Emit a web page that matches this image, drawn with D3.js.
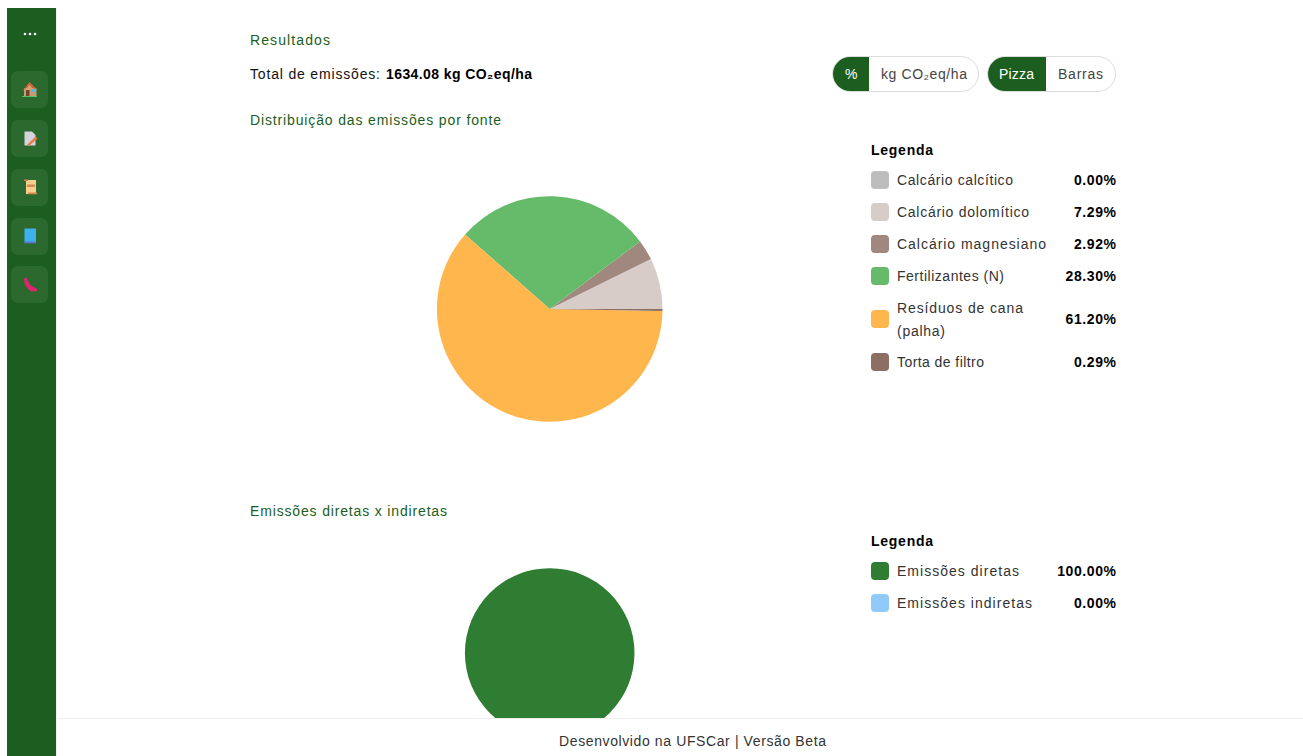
<!DOCTYPE html>
<html lang="pt-BR">
<head>
<meta charset="utf-8">
<title>Resultados</title>
<script src="https://cdn.jsdelivr.net/npm/d3@7/dist/d3.min.js"></script>
<style>
  html, body { margin: 0; padding: 0; background: #fff; overflow: hidden; }
  svg { display: block; font-family: "Liberation Sans", Arial, sans-serif; }
  text { font-size: 14px; }
</style>
</head>
<body>
<svg id="page" width="1303" height="756"></svg>
<script>
// Emission sources, in the order they are stacked around the pie
const sourceNames = ["Calcário calcítico", "Calcário dolomítico", "Calcário magnesiano", "Fertilizantes (N)", "Resíduos de cana|(palha)", "Torta de filtro"];
const sourceShares = [0.00, 7.29, 2.92, 28.30, 61.20, 0.29];
const sourceColors = ["#bdbdbd", "#d7ccc8", "#a1887f", "#66bb6a", "#ffb74d", "#8d6e63"];

const scopeNames = ["Emissões diretas", "Emissões indiretas"];
const scopeShares = [100.00, 0.00];
const scopeColors = ["#2e7d32", "#90caf9"];

const unitOptions = ["%", "kg CO₂eq/ha"];
const chartOptions = ["Pizza", "Barras"];

const GREEN = "#1b5e20";
const svg = d3.select("#page");

// Text helper: optional run width keeps labels aligned with the page's grid
function label(x, y, str, opts = {}) {
  const t = svg.append("text").attr("x", x).attr("y", y)
    .attr("fill", opts.fill || "#333").text(str);
  if (opts.bold) t.attr("font-weight", "bold");
  if (opts.anchor) t.attr("text-anchor", opts.anchor);
  if (opts.width) t.attr("textLength", opts.width).attr("lengthAdjust", "spacing");
  return t;
}

// Left navigation rail
svg.append("rect").attr("x", 7).attr("y", 8).attr("width", 49).attr("height", 748).attr("fill", GREEN);
svg.append("rect").attr("x", 56).attr("y", 8).attr("width", 1).attr("height", 748).attr("fill", "#f0f0f0");
[25, 30, 35].forEach(cx => {
  svg.append("circle").attr("cx", cx).attr("cy", 34).attr("r", 1.3).attr("fill", "#fff");
});

// Navigation buttons with small pictograms
[71, 120, 169, 218, 266].forEach(y => {
  svg.append("rect").attr("x", 11).attr("y", y).attr("width", 37).attr("height", 37)
    .attr("rx", 7).attr("fill", "#ffffff").attr("fill-opacity", 0.07);
});
const ico = svg.append("g");
// house
ico.append("rect").attr("x", 24).attr("y", 88).attr("width", 12.5).attr("height", 8).attr("fill", "#c99b70");
ico.append("path").attr("d", "M22.5 91 L29.5 82 L37.5 90 L33 88 L29 86 L25 89 Z").attr("fill", "#d9603b");
ico.append("path").attr("d", "M25 90 L29.5 85 L33 88.5 V90 Z").attr("fill", "#dca26e");
ico.append("rect").attr("x", 26).attr("y", 90).attr("width", 3.5).attr("height", 6).attr("fill", "#6d4535");
ico.append("rect").attr("x", 31.5).attr("y", 89).attr("width", 4).attr("height", 3).attr("fill", "#5fb6d9");
ico.append("rect").attr("x", 22).attr("y", 96).attr("width", 15).attr("height", 1).attr("fill", "#56c26b");
// memo
ico.append("path").attr("d", "M24.5 131.5 H32 L35.5 135 V145.5 H24.5 Z").attr("fill", "#d5d3dc");
ico.append("path").attr("d", "M27 145 L35.5 136.5 L37.5 138.5 L29.5 145.5 Z").attr("fill", "#ee7a45");
// scroll
ico.append("rect").attr("x", 26).attr("y", 180).attr("width", 10).attr("height", 14).attr("fill", "#fbcf8e");
ico.append("rect").attr("x", 24).attr("y", 179.5).attr("width", 4).attr("height", 1.5).attr("fill", "#c9824d");
ico.append("rect").attr("x", 27).attr("y", 184.5).attr("width", 8).attr("height", 2.5).attr("fill", "#cf8a55");
ico.append("rect").attr("x", 28).attr("y", 192.5).attr("width", 9).attr("height", 1.8).attr("fill", "#cf8a55");
// book
ico.append("rect").attr("x", 24.5).attr("y", 228.5).attr("width", 11.5).attr("height", 14).attr("fill", "#3fb0ee");
ico.append("rect").attr("x", 24.5).attr("y", 241.5).attr("width", 11.5).attr("height", 1.8).attr("fill", "#5c78c8");
// telephone receiver
ico.append("path").attr("d", "M24 278.5 L26.5 277.5 L28.5 282 L31 285.5 L36.5 288.5 L37.5 291 L31 291.5 L27 288 L24.5 283 Z").attr("fill", "#e0246f");

// Headings
label(250, 45, "Resultados", { fill: GREEN, width: 80 });
label(250, 79, "Total de emissões:", { fill: "#111", width: 130 });
label(386, 79, "1634.08 kg CO₂eq/ha", { fill: "#000", bold: true, width: 146 });
label(250, 125, "Distribuição das emissões por fonte", { fill: GREEN, width: 251 });
label(250, 516, "Emissões diretas x indiretas", { fill: GREEN, width: 197 });

// Pill-shaped segmented toggle; the first option is the active one
function toggle(x, w, splitW, labels, labelX, labelW) {
  const y = 56, h = 36, r = 18;
  svg.append("rect").attr("x", x + 0.5).attr("y", y + 0.5).attr("width", w - 1).attr("height", h - 1)
    .attr("rx", r).attr("fill", "#fff").attr("stroke", "#dcdcdc");
  svg.append("path")
    .attr("d", `M${x + splitW} ${y + 1} H${x + r} A${r - 1} ${r - 1} 0 0 0 ${x + r} ${y + h - 1} H${x + splitW} Z`)
    .attr("fill", GREEN);
  labels.forEach((t, i) => {
    label(labelX[i], 79, t, { fill: i === 0 ? "#fff" : "#444", width: labelW[i] });
  });
}
toggle(832, 147, 37, unitOptions, [845, 881], [12, 86]);
toggle(987, 129, 59, chartOptions, [999, 1058], [35, 45]);

// Pie that starts at three o'clock and runs counter-clockwise
function drawPie(cx, cy, radius, shares, colors) {
  const pie = d3.pie().sort(null).startAngle(Math.PI / 2).endAngle(Math.PI / 2 - 2 * Math.PI);
  const arc = d3.arc().innerRadius(0).outerRadius(radius);
  svg.append("g").attr("transform", `translate(${cx},${cy})`)
    .selectAll("path").data(pie(shares)).join("path")
    .attr("d", arc).attr("fill", (d, i) => colors[i]);
}
drawPie(549.7, 309, 112.8, sourceShares, sourceColors);
drawPie(549.7, 653, 84.8, scopeShares, scopeColors);

// Legend table: swatch, name (may wrap to two lines), right-aligned share
function drawLegend(titleY, rowY, names, nameWidths, shares, colors) {
  label(871, titleY, "Legenda", { fill: "#000", bold: true, width: 62 });
  names.forEach((name, i) => {
    const y = rowY[i];
    svg.append("rect").attr("x", 871).attr("y", y - 9).attr("width", 18).attr("height", 18)
      .attr("rx", 4).attr("fill", colors[i]);
    const lines = name.split("|");
    lines.forEach((line, k) => {
      label(897, y + 5 + (k - (lines.length - 1) / 2) * 23, line, { width: nameWidths[i][k] });
    });
    const text = shares[i].toFixed(2) + "%";
    // Bold share column sits flush with the right edge of the table
    label(1116, y + 5, text, { fill: "#000", bold: true, anchor: "end", width: 8.4 * text.length });
  });
}
drawLegend(155, [180, 212, 244, 276, 319, 362], sourceNames,
  [[116], [132], [149], [107], [126, 48], [87]], sourceShares, sourceColors);
drawLegend(546, [571, 603], scopeNames, [[122], [135]], scopeShares, scopeColors);

// Fixed footer covers whatever scrolls beneath it
svg.append("rect").attr("x", 57).attr("y", 718).attr("width", 1246).attr("height", 38).attr("fill", "#fff");
svg.append("rect").attr("x", 57).attr("y", 718).attr("width", 1246).attr("height", 1).attr("fill", "#eeeeee");
label(559, 746, "Desenvolvido na UFSCar | Versão Beta", { width: 267 });
</script>
</body>
</html>
